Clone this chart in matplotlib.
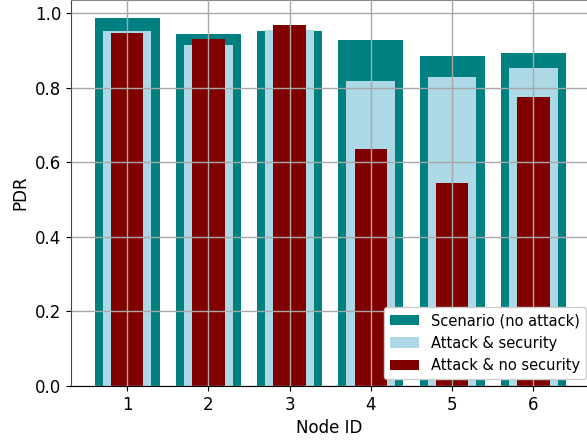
import numpy as np
from matplotlib import pyplot as plt

nodes = [1, 2, 3, 4, 5, 6]
pdr_no_attack = [0.987, 0.944, 0.952, 0.928, 0.885, 0.893]
pdr_attack_sec = [0.952, 0.914, 0.954, 0.818, 0.828, 0.853]
pdr_attack_nosec = [0.946, 0.930, 0.968, 0.635, 0.544, 0.775]

plt.rcParams['font.size'] = 12

fig = plt.figure(figsize=(5.87, 4.40), dpi=100)
ax = fig.add_axes([0.121, 0.1227, 0.879, 0.8773])

x = np.array(nodes)
ax.bar(x, pdr_no_attack, width=0.8, color='teal', label='Scenario (no attack)')
ax.bar(x, pdr_attack_sec, width=0.6, color='lightblue', label='Attack & security')
ax.bar(x, pdr_attack_nosec, width=0.4, color='maroon', label='Attack & no security')

ax.set_xticks(nodes)
ax.set_xlim(0.31, 6.66)
ax.set_ylim(0, 1.035)
ax.grid(True, color='#a8a8a8', linewidth=1.0)
ax.set_axisbelow(False)
ax.spines['right'].set_visible(False)
ax.spines['top'].set_color('#888888')
ax.spines['left'].set_color('#444444')

ax.set_xlabel('Node ID')
ax.set_ylabel('PDR')
ax.legend(loc='lower right', fontsize=10.5, framealpha=1.0,
          bbox_to_anchor=(1.012, 0.0))

plt.savefig('out.png')
